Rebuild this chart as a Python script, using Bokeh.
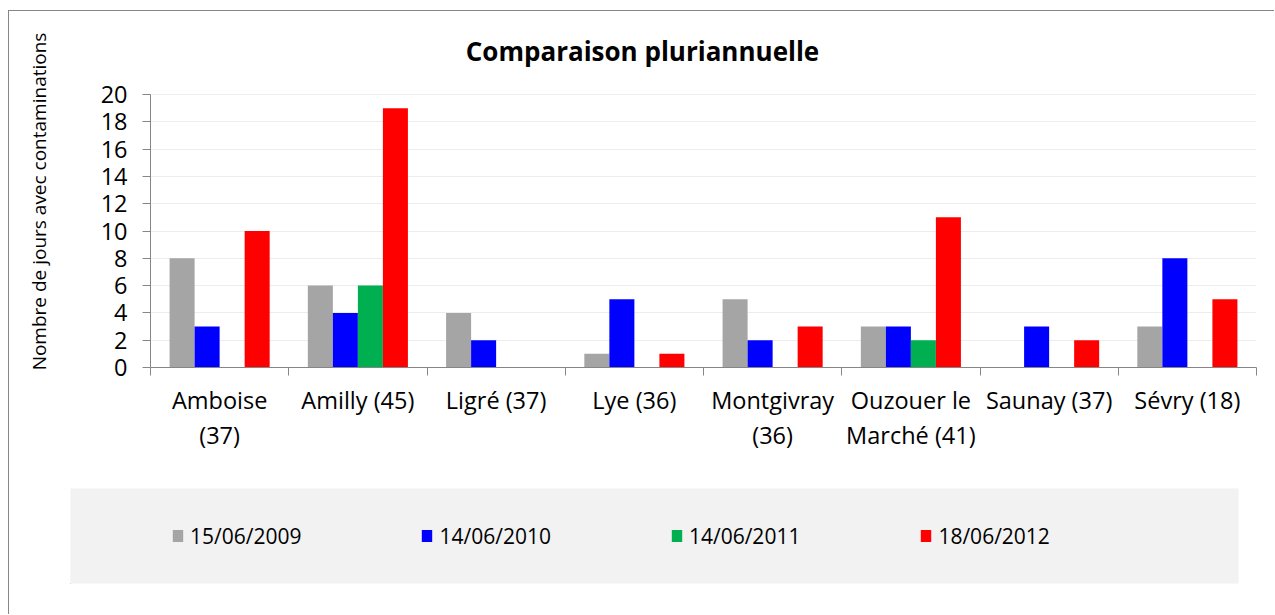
from bokeh.plotting import figure
from bokeh.layouts import column, row
from bokeh.models import FixedTicker, Legend, LegendItem, Range1d
from bokeh.core.properties import value
from bokeh.embed import file_html
from bokeh.resources import INLINE
import numpy as np

# ---- data ----
categories = ["Amboise\n(37)", "Amilly (45)", "Ligré (37)", "Lye (36)",
              "Montgivray\n(36)", "Ouzouer le\nMarché (41)", "Saunay (37)", "Sévry (18)"]
series_labels = ["15/06/2009", "14/06/2010", "14/06/2011", "18/06/2012"]
s2009 = [8, 6, 4, 1, 5, 3, 0, 3]
s2010 = [3, 4, 2, 5, 2, 3, 3, 8]
s2011 = [0, 6, 0, 0, 0, 2, 0, 0]
s2012 = [10, 19, 0, 1, 3, 11, 2, 5]
colors = ["#A5A5A5", "#0000FF", "#00B050", "#FF0000"]
y_ticks = list(range(0, 21, 2))
y_max = 20
title_text = "Comparaison pluriannuelle"
y_label = "Nombre de jours avec contaminations"

FONT = "Open Sans"
W = 1265
H1, H2 = 460, 143
LEFT, RIGHT, TOP, BOTTOM = 141, 18, 24, 104
frame_w = W - LEFT - RIGHT            # 1106 px
frame_h = H1 - TOP - BOTTOM           # 332 px
px_per_unit = 273 / y_max             # 20 units span 273 px
y_top = frame_h / px_per_unit         # extra headroom above 20 holds the title
px_per_cat = frame_w / len(categories)

# ---------------- main chart ----------------
p = figure(width=W, height=H1, output_backend="svg", toolbar_location=None,
           x_range=Range1d(0, len(categories)), y_range=Range1d(0, y_top),
           min_border_left=LEFT, min_border_right=RIGHT, min_border_top=TOP,
           min_border_bottom=BOTTOM)
p.outline_line_color = None
p.background_fill_color = "white"
p.border_fill_color = "white"

# chart title, placed in the headroom above the 20 line
title_x = (642 - 150) / px_per_cat
title_y = (367 - 50) / px_per_unit
p.text(x=[title_x], y=[title_y], text=[title_text], text_font=value(FONT),
       text_font_size="26px", text_font_style="bold", text_color="black",
       text_align="center", text_baseline="middle")

series = [s2009, s2010, s2011, s2012]
bar_w = 0.181
centers = np.arange(len(categories)) + 0.5
renderers = []
for k, (vals, col) in enumerate(zip(series, colors)):
    r = p.vbar(x=centers + (k - 1.5) * bar_w, top=vals, bottom=0, width=bar_w,
               fill_color=col, line_color=None)
    renderers.append(r)

xa = p.xaxis[0]
xa.ticker = FixedTicker(ticks=list(centers), minor_ticks=list(range(len(categories) + 1)))
xa.major_label_overrides = {float(c): lab for c, lab in zip(centers, categories)}
xa.axis_line_color = "#868686"
xa.major_tick_line_color = None
xa.major_tick_out = 0
xa.major_tick_in = 0
xa.minor_tick_line_color = "#868686"
xa.minor_tick_out = 8
xa.minor_tick_in = 0
xa.major_label_text_font = FONT
xa.major_label_text_font_size = "23.5px"
xa.major_label_text_color = "black"
xa.major_label_text_line_height = 1.1
xa.major_label_standoff = 8

ya = p.yaxis[0]
ya.ticker = FixedTicker(ticks=y_ticks)
ya.bounds = (0, y_max)
ya.axis_line_color = "#868686"
ya.major_tick_line_color = "#868686"
ya.major_tick_out = 8
ya.major_tick_in = 0
ya.minor_tick_line_color = None
ya.major_label_text_font = FONT
ya.major_label_text_font_size = "23.5px"
ya.major_label_text_color = "black"
ya.major_label_standoff = 15
ya.axis_label = y_label
ya.axis_label_text_font = FONT
ya.axis_label_text_font_size = "19px"
ya.axis_label_text_font_style = "normal"
ya.axis_label_text_color = "black"
ya.axis_label_standoff = 46

p.xgrid.visible = False
p.ygrid.ticker = FixedTicker(ticks=y_ticks)
p.ygrid.grid_line_color = "#EDEDED"

# ---------------- legend panel ----------------
lg = figure(width=W, height=H2, output_backend="svg", toolbar_location=None,
            x_range=Range1d(0, 1), y_range=Range1d(0, 1),
            x_axis_location=None, y_axis_location=None,
            min_border_left=61, min_border_right=36, min_border_top=17,
            min_border_bottom=31)
lg.outline_line_color = None
lg.background_fill_color = "#F2F2F2"
lg.border_fill_color = "white"
lg.xgrid.visible = False
lg.ygrid.visible = False

# legend swatch renderers (kept outside the visible range)
swatches = []
for col in colors:
    swatches.append(lg.vbar(x=[-5], top=[-5], bottom=[-6], width=0.1,
                            fill_color=col, line_color=None))

legend = Legend(items=[LegendItem(label=lab, renderers=[r]) for lab, r in zip(series_labels, swatches)],
                location="left", orientation="horizontal", spacing=119,
                padding=0, margin=101, glyph_width=13, glyph_height=15,
                label_standoff=6, label_text_font=FONT, label_text_font_size="21px",
                label_text_color="black", background_fill_alpha=0,
                border_line_color=None)
lg.add_layout(legend)

root = column(p, row(lg), spacing=0, margin=(10, 0, 0, 8),
              styles={"border-left": "1px solid #868686", "border-top": "1px solid #868686"})

open("out.html", "w").write(file_html(root, INLINE))
